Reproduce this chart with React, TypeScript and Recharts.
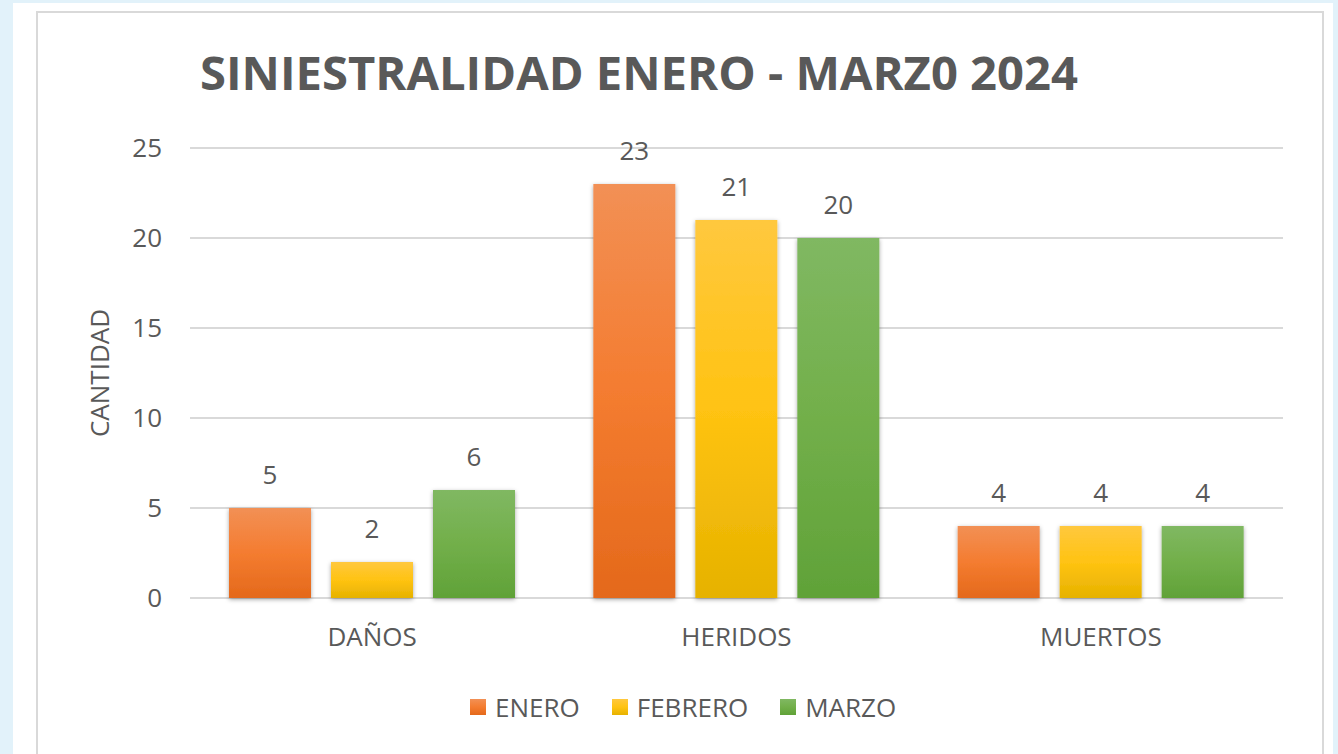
import React from 'react';
import { BarChart, Bar, XAxis, YAxis, CartesianGrid, Legend, LabelList } from 'recharts';

const categories = ['DAÑOS', 'HERIDOS', 'MUERTOS'];
const enero = [5, 23, 4];
const febrero = [2, 21, 4];
const marzo = [6, 20, 4];
const yTicks = [0, 5, 10, 15, 20, 25];

const seriesDefs = [
  { key: 'ENERO', values: enero, id: 'gEnero', stops: ['#F29055', '#F47C30', '#E4691B'] },
  { key: 'FEBRERO', values: febrero, id: 'gFebrero', stops: ['#FFC83E', '#FFC312', '#E6B200'] },
  { key: 'MARZO', values: marzo, id: 'gMarzo', stops: ['#80B862', '#72AF4A', '#60A238'] },
];

const data = categories.map((c, i) => ({
  name: c,
  ENERO: enero[i],
  FEBRERO: febrero[i],
  MARZO: marzo[i],
}));

const FONT = '"Open Sans", "Liberation Sans", sans-serif';
const TEXT = '#595959';
const FS = 26;

const LegendContent = () => (
  <div style={{ display: 'flex', alignItems: 'center', fontFamily: FONT, fontSize: FS, color: TEXT }}>
    {seriesDefs.map((s, i) => (
      <div key={s.key} style={{ display: 'flex', alignItems: 'center', marginRight: i < 2 ? 32 : 0 }}>
        <svg width={16} height={16} style={{ marginRight: 9 }}>
          <defs>
            <linearGradient id={`lg${s.id}`} x1="0" y1="0" x2="0" y2="1">
              <stop offset="0%" stopColor={s.stops[0]} />
              <stop offset="50%" stopColor={s.stops[1]} />
              <stop offset="100%" stopColor={s.stops[2]} />
            </linearGradient>
          </defs>
          <rect x={0} y={0} width={16} height={16} fill={`url(#lg${s.id})`} />
        </svg>
        <span style={{ lineHeight: '26px' }}>{s.key}</span>
      </div>
    ))}
  </div>
);

const YLabel = (props: any) => {
  const vb = props.viewBox || {};
  const cx = vb.x + 99;
  const cy = vb.y + vb.height / 2;
  return (
    <text
      x={cx}
      y={cy}
      transform={`rotate(-90, ${cx}, ${cy})`}
      textAnchor="middle"
      dominantBaseline="central"
      fontFamily={FONT}
      fontSize={FS}
      fill={TEXT}
    >
      CANTIDAD
    </text>
  );
};

export default function App() {
  return (
    <div style={{ position: 'fixed', left: 0, top: 0, width: 1338, height: 754, background: '#E2F2FA', overflow: 'hidden' }}>
      <div style={{ position: 'absolute', left: 13, top: 3, width: 1320, height: 800, background: '#FFFFFF' }} />
      <div style={{ position: 'absolute', left: 36, top: 11, width: 1284, height: 800, border: '2px solid #D9D9D9', boxSizing: 'content-box' }} />
      <svg style={{ position: 'absolute', left: 0, top: 0 }} width={1338} height={130}>
        <text
          x={200}
          y={90}
          fontFamily={FONT}
          fontWeight={700}
          fontSize={46}
          fill={TEXT}
          textLength={878}
          lengthAdjust="spacingAndGlyphs"
        >
          SINIESTRALIDAD ENERO - MARZ0 2024
        </text>
      </svg>
      <div style={{ position: 'absolute', left: 0, top: 0 }}>
        <BarChart
          width={1338}
          height={754}
          data={data}
          margin={{ top: 148, right: 55, bottom: 0, left: 0 }}
          barSize={82}
          barGap={20}
        >
          <defs>
            {seriesDefs.map((s) => (
              <linearGradient key={s.id} id={s.id} x1="0" y1="0" x2="0" y2="1">
                <stop offset="0%" stopColor={s.stops[0]} />
                <stop offset="50%" stopColor={s.stops[1]} />
                <stop offset="100%" stopColor={s.stops[2]} />
              </linearGradient>
            ))}
            <filter id="barShadow" x="-20%" y="-20%" width="140%" height="140%">
              <feDropShadow dx="0" dy="1.5" stdDeviation="2.2" floodColor="#000000" floodOpacity="0.35" />
            </filter>
          </defs>
          <CartesianGrid vertical={false} stroke="#D9D9D9" strokeWidth={2} />
          <XAxis
            dataKey="name"
            axisLine={false}
            tickLine={false}
            tickSize={0}
            tickMargin={30}
            height={130}
            tick={{ fontFamily: FONT, fontSize: FS, fill: TEXT }}
          />
          <YAxis
            domain={[0, 25]}
            ticks={yTicks}
            interval={0}
            axisLine={false}
            tickLine={false}
            tickSize={0}
            tickMargin={28}
            width={190}
            tick={{ fontFamily: FONT, fontSize: FS, fill: TEXT }}
            label={<YLabel />}
          />
          <Legend
            content={<LegendContent />}
            wrapperStyle={{ position: 'absolute', left: 470, top: 694, width: 'auto', height: 'auto' }}
          />
          {seriesDefs.map((s) => (
            <Bar
              key={s.key}
              dataKey={s.key}
              fill={`url(#${s.id})`}
              filter="url(#barShadow)"
              isAnimationActive={false}
            >
              <LabelList
                dataKey={s.key}
                position="top"
                offset={24}
                style={{ fontFamily: FONT, fontSize: FS, fill: TEXT }}
              />
            </Bar>
          ))}
        </BarChart>
      </div>
    </div>
  );
}
